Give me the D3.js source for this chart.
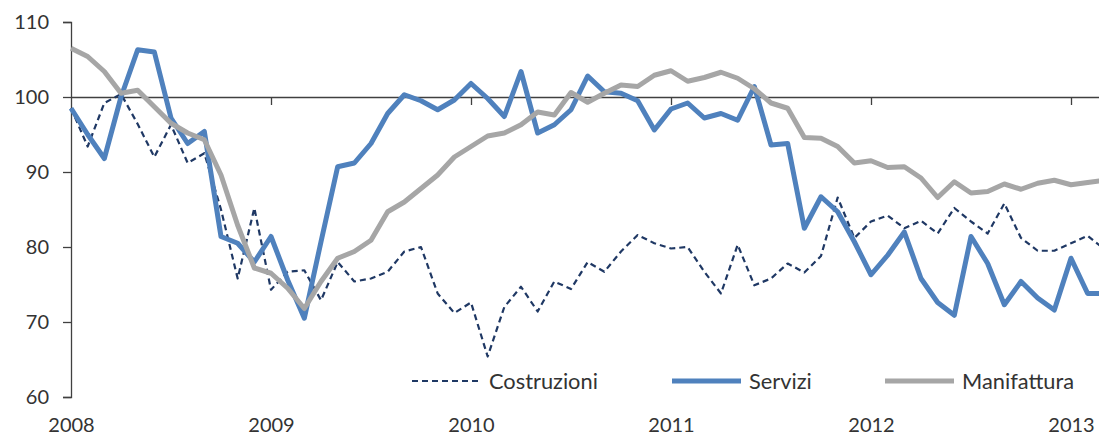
<!DOCTYPE html>
<html>
<head>
<meta charset="utf-8">
<script src="https://cdn.jsdelivr.net/npm/d3@7"></script>
<style>
body { margin: 0; background: #fff; }
svg { display: block; }
text { font-family: Lato, "Open Sans", sans-serif; fill: #333; }
</style>
</head>
<body>
<div id="chart"></div>
<script>
var w = 1099;
var h = 439;

// monthly values, Jan 2008 - Mar 2013
var costruzioni = [98.5, 93.4, 99.2, 100.4, 96.4, 92.0, 96.3, 91.2, 92.5, 85.0,
    75.8, 85.2, 74.3, 76.7, 76.9, 72.9, 78.0, 75.4, 75.8, 76.7,
    79.4, 80.0, 73.8, 71.2, 72.6, 65.4, 72.0, 74.7, 71.4, 75.4,
    74.4, 78.0, 76.7, 79.4, 81.6, 80.5, 79.8, 80.0, 76.7, 73.8,
    80.3, 74.9, 75.8, 77.8, 76.6, 78.8, 86.6, 81.2, 83.4, 84.2,
    82.5, 83.5, 81.8, 85.2, 83.4, 81.8, 85.8, 81.2, 79.5, 79.5,
    80.5, 81.5, 79.7];
var servizi = [98.5, 95.0, 91.8, 100.0, 106.3, 106.0, 97.2, 93.8, 95.4, 81.4,
    80.5, 78.0, 81.4, 75.6, 70.5, 80.7, 90.7, 91.2, 93.8, 97.8,
    100.3, 99.5, 98.3, 99.6, 101.8, 99.8, 97.4, 103.4, 95.2, 96.3,
    98.3, 102.8, 100.7, 100.5, 99.5, 95.6, 98.4, 99.2, 97.2, 97.8,
    96.9, 101.4, 93.6, 93.8, 82.5, 86.7, 84.7, 80.7, 76.3, 78.9,
    82.0, 75.8, 72.6, 70.9, 81.4, 77.8, 72.3, 75.4, 73.2, 71.6,
    78.5, 73.8, 73.8];
var manifattura = [106.5, 105.4, 103.4, 100.5, 100.9, 98.7, 96.5, 95.2, 94.3, 89.6,
    82.9, 77.2, 76.5, 74.5, 71.8, 75.4, 78.5, 79.4, 80.9, 84.7,
    86.0, 87.8, 89.6, 92.0, 93.4, 94.8, 95.2, 96.3, 98.0, 97.6,
    100.6, 99.3, 100.5, 101.6, 101.4, 102.9, 103.5, 102.1, 102.6, 103.3,
    102.5, 101.1, 99.2, 98.5, 94.6, 94.5, 93.4, 91.2, 91.5, 90.6,
    90.7, 89.2, 86.6, 88.7, 87.2, 87.4, 88.4, 87.7, 88.5, 88.9,
    88.3, 88.6, 88.9];

var years = ["2008", "2009", "2010", "2011", "2012", "2013"];
var yTicks = [60, 70, 80, 90, 100, 110];

var series = [
    { name: "Costruzioni", values: costruzioni, color: "#1f3864", width: 2.2, dash: "6,4" },
    { name: "Servizi", values: servizi, color: "#4f81bd", width: 5, dash: null },
    { name: "Manifattura", values: manifattura, color: "#a6a6a6", width: 5, dash: null }
];

var svg = d3.select("#chart")
            .append("svg")
            .attr("width", w)
            .attr("height", h);

var x = d3.scaleLinear().domain([0, 60]).range([71, 1071]);
var y = d3.scaleLinear().domain([60, 110]).range([397, 22]);

// y axis
var yAxis = svg.append("g")
    .attr("transform", "translate(" + x(0) + ",0)")
    .call(d3.axisLeft(y).tickValues(yTicks).tickSize(8).tickPadding(14).tickFormat(d3.format("d")));
yAxis.select(".domain").attr("stroke", "#404040").attr("stroke-width", 1.3);
yAxis.selectAll(".tick line").attr("stroke", "#404040").attr("stroke-width", 1.3);
yAxis.selectAll("text").attr("font-size", 20).attr("fill", "#333")
    .style("font-family", "Lato, 'Open Sans', sans-serif");

// x axis crossing at 100
var xAxis = svg.append("g")
    .attr("transform", "translate(0," + y(100) + ")")
    .call(d3.axisBottom(x).tickValues([12, 24, 36, 48, 60]).tickSize(8).tickFormat(""));
xAxis.select(".domain").attr("d", "M" + x(0) + ",0.5H" + w).attr("stroke", "#404040").attr("stroke-width", 1.3);
xAxis.selectAll(".tick line").attr("stroke", "#404040").attr("stroke-width", 1.3);

// year labels at the bottom
var yearAxis = svg.append("g")
    .attr("transform", "translate(0,418)")
    .call(d3.axisBottom(x)
        .tickValues(years.map(function(d, i) { return i * 12; }))
        .tickSize(0).tickPadding(0)
        .tickFormat(function(d) { return years[d / 12]; }));
yearAxis.select(".domain").remove();
yearAxis.selectAll("text").attr("font-size", 20).attr("fill", "#333")
    .style("font-family", "Lato, 'Open Sans', sans-serif");

var line = d3.line()
    .x(function(d, i) { return x(i); })
    .y(function(d) { return y(d); });

svg.selectAll("path.series")
    .data(series)
    .enter()
    .append("path")
    .attr("class", "series")
    .attr("d", function(s) { return line(s.values); })
    .attr("fill", "none")
    .attr("stroke", function(s) { return s.color; })
    .attr("stroke-width", function(s) { return s.width; })
    .attr("stroke-dasharray", function(s) { return s.dash; })
    .attr("stroke-linejoin", "round");

// legend
var legendX = [412, 672, 885];
var legend = svg.selectAll("g.legend")
    .data(series)
    .enter()
    .append("g")
    .attr("class", "legend")
    .attr("transform", function(s, i) { return "translate(" + legendX[i] + ",381)"; });

legend.append("line")
    .attr("x1", 0).attr("x2", 69)
    .attr("y1", 0).attr("y2", 0)
    .attr("stroke", function(s) { return s.color; })
    .attr("stroke-width", function(s) { return s.width; })
    .attr("stroke-dasharray", function(s) { return s.dash; });

legend.append("text")
    .attr("x", 77)
    .attr("y", 0)
    .attr("dy", "0.35em")
    .attr("font-size", 21.8)
    .text(function(s) { return s.name; });
</script>
</body>
</html>
